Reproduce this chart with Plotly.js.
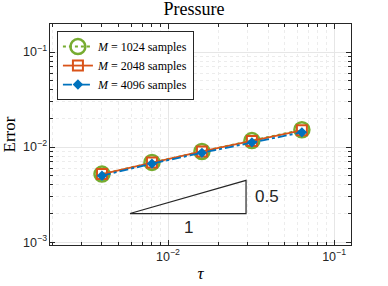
<!DOCTYPE html>
<html><head><meta charset="utf-8">
<script src="https://cdn.plot.ly/plotly-3.0.1.min.js"></script>
<style>html,body{margin:0;padding:0;background:#fff}#p{width:388px;height:286px}</style>
</head><body><div id="p"></div>
<script>
const tau = [0.004, 0.008, 0.016, 0.032, 0.064];
const err1024 = [0.0052, 0.0069, 0.0090, 0.0117, 0.0152];
const err2048 = [0.0052, 0.0069, 0.0090, 0.0116, 0.0150];
const err4096 = [0.0050, 0.0067, 0.0087, 0.0112, 0.0143];
const names = ['<i>M</i> = 1024 samples', '<i>M</i> = 2048 samples', '<i>M</i> = 4096 samples'];
const triX = [0.0059, 0.0295, 0.0295, 0.0059];
const triY = [0.002, 0.002, 0.00447, 0.002];
const triLabels = ['1', '0.5'];

const green = '#77AC30', orange = '#D95319', blue = '#0072BD';
const traces = [
  {x: tau, y: err1024, name: names[0], mode: 'lines+markers',
   line: {color: green, width: 2, dash: 'dot'},
   marker: {symbol: 'circle-open', size: 15, color: green, line: {width: 2.5, color: green}}},
  {x: tau, y: err2048, name: names[1], mode: 'lines+markers',
   line: {color: orange, width: 1.8},
   marker: {symbol: 'square-open', size: 10, color: orange, line: {width: 2, color: orange}}},
  {x: tau, y: err4096, name: names[2], mode: 'lines+markers',
   line: {color: blue, width: 1.8, dash: 'dashdot'},
   marker: {symbol: 'diamond', size: 8, color: blue}},
  {x: triX, y: triY, mode: 'lines', showlegend: false, hoverinfo: 'skip',
   line: {color: '#262626', width: 1.2}}
];
const gridc = '#e6e6e6';
const axisCommon = {
  type: 'log', showline: true, mirror: 'ticks', linecolor: '#262626', linewidth: 1,
  ticks: 'inside', ticklen: 5, tickcolor: '#262626', dtick: 1,
  exponentformat: 'power', showgrid: true, gridcolor: gridc, gridwidth: 1,
  tickfont: {family: 'Liberation Sans, Arial', size: 10, color: '#262626'},
  zeroline: false,
  minor: {showgrid: true, gridcolor: '#ececec', griddash: 'dot', ticks: 'inside', ticklen: 3, tickcolor: '#262626'}
};
const layout = {
  width: 388, height: 286,
  margin: {l: 50, r: 37, t: 24, b: 41},
  paper_bgcolor: '#fff', plot_bgcolor: '#fff',
  title: {text: 'Pressure', font: {family: 'Liberation Serif, serif', size: 18, color: '#000'}, x: 0.5, xanchor: 'center', y: 0.99, yanchor: 'top'},
  xaxis: Object.assign({}, axisCommon, {range: [-2.711, -0.898],
    title: {text: '<i>τ</i>', font: {family: 'Liberation Serif, serif', size: 17, color: '#000'}, standoff: 4}}),
  yaxis: Object.assign({}, axisCommon, {range: [-3.03, -0.705],
    title: {text: 'Error', font: {family: 'Liberation Serif, serif', size: 17, color: '#000'}, standoff: 8}}),
  showlegend: true,
  legend: {x: 0.023, y: 0.968, xanchor: 'left', yanchor: 'top', bgcolor: '#fff',
    bordercolor: '#262626', borderwidth: 1,
    font: {family: 'Liberation Serif, serif', size: 12, color: '#000'},
    tracegroupgap: 0, itemwidth: 30},
  annotations: [
    {x: Math.log10(Math.sqrt(triX[0]*triX[1])), y: Math.log10(triY[0]), xref: 'x', yref: 'y', text: triLabels[0], showarrow: false, yanchor: 'top', yshift: -2,
     font: {family: 'Liberation Sans, Arial', size: 17, color: '#262626'}},
    {x: Math.log10(triX[1]), y: Math.log10(Math.sqrt(triY[1]*triY[2])), xref: 'x', yref: 'y', text: triLabels[1], showarrow: false, xanchor: 'left', xshift: 7,
     font: {family: 'Liberation Sans, Arial', size: 17, color: '#262626'}}
  ]
};
Plotly.newPlot('p', traces, layout, {staticPlot: true, displayModeBar: false});
</script></body></html>
